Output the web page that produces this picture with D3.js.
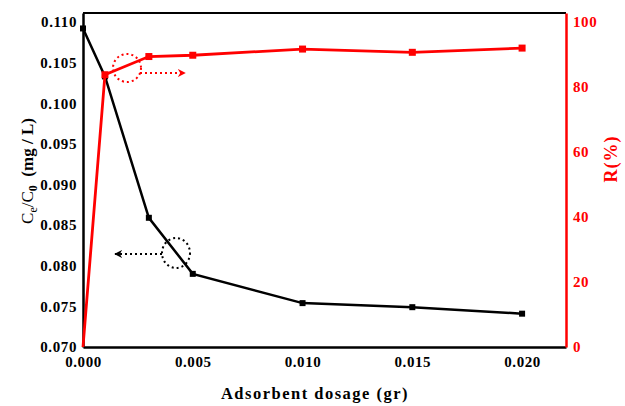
<!DOCTYPE html>
<html>
<head>
<meta charset="utf-8">
<script src="https://cdn.jsdelivr.net/npm/d3@7"></script>
<style>
  body { margin: 0; background: #fff; }
  text { font-family: "Liberation Serif", "Times New Roman", serif; font-weight: bold; }
</style>
</head>
<body>
<div id="chart"></div>
<script>
const dosage = [0, 0.001, 0.003, 0.005, 0.010, 0.015, 0.020];
const ceC0 = [0.1092, 0.1033, 0.0859, 0.0790, 0.0754, 0.0749, 0.0741];
const removal = [0, 83.8, 89.4, 89.8, 91.7, 90.7, 92.0];
const xTicks = [0, 0.005, 0.010, 0.015, 0.020];
const leftTicks = [0.070, 0.075, 0.080, 0.085, 0.090, 0.095, 0.100, 0.105, 0.110];
const rightTicks = [0, 20, 40, 60, 80, 100];

const W = 625, H = 406;
const MARGIN = { left: 83, right: 59, top: 13, bottom: 59 };
const iw = W - MARGIN.left - MARGIN.right;
const ih = H - MARGIN.top - MARGIN.bottom;

const svg = d3.select("#chart").append("svg").attr("width", W).attr("height", H);
const g = svg.append("g").attr("transform", `translate(${MARGIN.left},${MARGIN.top})`);

const x = d3.scaleLinear().domain([0, 0.022]).range([0, iw]);
const yL = d3.scaleLinear().domain([0.070, 0.1111]).range([ih, 0]);
const yR = d3.scaleLinear().domain([0, 102.8]).range([ih, 0]);

// frame
g.append("line").attr("x1", 0).attr("x2", iw).attr("y1", 0).attr("y2", 0).attr("stroke", "#000").attr("stroke-width", 2);

const xAxis = g.append("g").attr("transform", `translate(0,${ih})`)
  .call(d3.axisBottom(x).tickValues(xTicks).tickSize(0).tickPadding(9).tickFormat(d3.format(".3f")));
xAxis.select(".domain").attr("stroke", "#000").attr("stroke-width", 2.5);
xAxis.selectAll("text").attr("font-size", 15).attr("letter-spacing", 0.6).attr("fill", "#000");

const lAxis = g.append("g")
  .call(d3.axisLeft(yL).tickValues(leftTicks).tickSize(0).tickPadding(6).tickFormat(d3.format(".3f")));
lAxis.select(".domain").attr("stroke", "#000").attr("stroke-width", 2.5);
lAxis.selectAll("text").attr("font-size", 15).attr("letter-spacing", 0.6).attr("fill", "#000");

const rAxis = g.append("g").attr("transform", `translate(${iw},0)`)
  .call(d3.axisRight(yR).tickValues(rightTicks).tickSize(0).tickPadding(7));
rAxis.select(".domain").attr("stroke", "red").attr("stroke-width", 2.5);
rAxis.selectAll("text").attr("font-size", 15).attr("letter-spacing", 0.6).attr("fill", "red");

// titles
svg.append("text").attr("x", 315).attr("y", 399).attr("text-anchor", "middle")
  .attr("font-size", 16.5).attr("letter-spacing", 1.5).attr("fill", "#000").text("Adsorbent dosage (gr)");

const lt = svg.append("text").attr("transform", "translate(33,171) rotate(-90)")
  .attr("text-anchor", "middle").attr("font-size", 17).attr("fill", "#000");
lt.append("tspan").attr("font-weight", "normal").text("C");
lt.append("tspan").attr("font-size", 12).attr("dy", 4).attr("font-weight", "normal").text("e");
lt.append("tspan").attr("dy", -4).attr("font-weight", "normal").text("/C");
lt.append("tspan").attr("font-size", 12).attr("dy", 4).text("0");
lt.append("tspan").attr("dy", -4).text("\u00a0 (mg / L)");

svg.append("text").attr("transform", "translate(617,159) rotate(-90)")
  .attr("text-anchor", "middle").attr("font-size", 18).attr("letter-spacing", 1).attr("fill", "red").text("R(%)");

// series
const black = dosage.map((d, i) => [d, ceC0[i]]);
const red = dosage.map((d, i) => [d, removal[i]]);

g.append("path").datum(black).attr("fill", "none").attr("stroke", "#000").attr("stroke-width", 2.5)
  .attr("d", d3.line().x(d => x(d[0])).y(d => yL(d[1])));
g.selectAll(".bm").data(black).join("rect").attr("class", "bm")
  .attr("x", d => x(d[0]) - 3).attr("y", d => yL(d[1]) - 3).attr("width", 6).attr("height", 6).attr("fill", "#000");

g.append("path").datum(red).attr("fill", "none").attr("stroke", "red").attr("stroke-width", 2.8)
  .attr("d", d3.line().x(d => x(d[0])).y(d => yR(d[1])));
g.selectAll(".rm").data(red.slice(1)).join("rect").attr("class", "rm")
  .attr("x", d => x(d[0]) - 3.5).attr("y", d => yR(d[1]) - 3.5).attr("width", 7).attr("height", 7).attr("fill", "red");

// annotations
const defs = svg.append("defs");
[["ahR", "red"], ["ahB", "#000"]].forEach(([id, c]) => {
  defs.append("marker").attr("id", id).attr("viewBox", "0 0 10 10").attr("refX", 9).attr("refY", 5)
    .attr("markerWidth", 4).attr("markerHeight", 4).attr("orient", "auto")
    .append("path").attr("d", "M0,0 L10,5 L0,10 L3,5 Z").attr("fill", c);
});

svg.append("ellipse").attr("cx", 127).attr("cy", 68).attr("rx", 14).attr("ry", 14)
  .attr("fill", "none").attr("stroke", "red").attr("stroke-width", 2).attr("stroke-dasharray", "2,3");
svg.append("line").attr("x1", 140).attr("y1", 73).attr("x2", 185).attr("y2", 73)
  .attr("stroke", "red").attr("stroke-width", 2).attr("stroke-dasharray", "2,3").attr("marker-end", "url(#ahR)");

svg.append("ellipse").attr("cx", 176).attr("cy", 253).attr("rx", 14).attr("ry", 15)
  .attr("fill", "none").attr("stroke", "#000").attr("stroke-width", 2).attr("stroke-dasharray", "2,3");
svg.append("line").attr("x1", 162).attr("y1", 254).attr("x2", 115).attr("y2", 254)
  .attr("stroke", "#000").attr("stroke-width", 2).attr("stroke-dasharray", "2,3").attr("marker-end", "url(#ahB)");
</script>
</body>
</html>
